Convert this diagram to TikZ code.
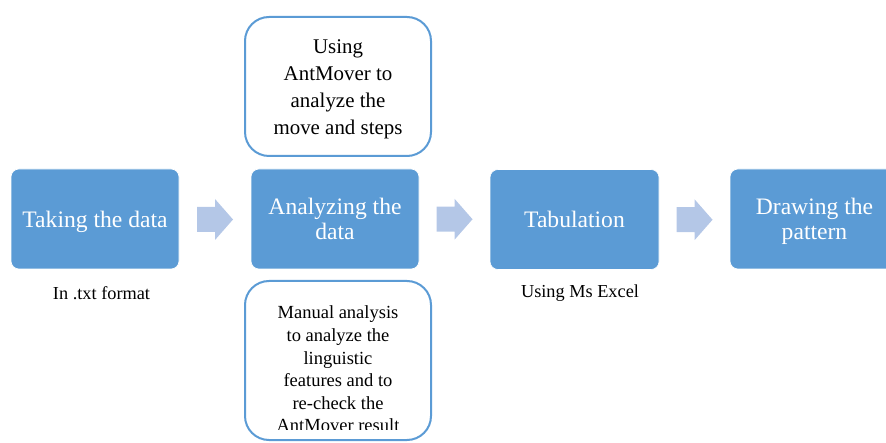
\documentclass[tikz,border=0pt]{standalone}
\usepackage{fontspec}
\setmainfont{Liberation Serif}
\usetikzlibrary{calc}
\definecolor{boxblue}{HTML}{5B9BD5}
\definecolor{arrowblue}{HTML}{B4C7E7}
\tikzset{
  mainbox/.style={rectangle, rounded corners=8pt, fill=boxblue, draw=white, line width=0.6pt,
    minimum width=168pt, minimum height=100pt, text=white, inner sep=0pt, align=center,
    text depth=0pt, font=\fontsize{23.6}{24.5}\selectfont},
  sidebox/.style={rectangle, rounded corners=24pt, draw=boxblue, line width=2pt, fill=white,
    minimum width=186pt, inner sep=0pt, align=center},
  toptext/.style={font=\fontsize{20.9}{27}\selectfont, align=center, inner sep=0pt},
  bottext/.style={font=\fontsize{18.5}{22.6}\selectfont, align=center, inner sep=0pt},
  note/.style={font=\fontsize{18.3}{22}\selectfont, inner sep=0pt},
  blockarrow/.pic={\fill[arrowblue] (-18,-12.5) -- (0,-12.5) -- (0,-20.5) -- (18,0) -- (0,20.5) -- (0,12.5) -- (-18,12.5) -- cycle;}
}
\begin{document}
\begin{tikzpicture}[x=1pt,y=-1pt]
\useasboundingbox (0,0) rectangle (886,443);
\clip (0,0) rectangle (886,443);
% main row
\node[mainbox] (take) at (95,219) {Taking the data};
\node[mainbox] (anal) at (335,219) {Analyzing the\\data};
\node[mainbox, minimum width=169pt] (tab) at (574.5,219.5) {Tabulation};
\node[mainbox, minimum width=169pt] (drawp) at (814.5,219) {Drawing the\\pattern};
% block arrows
\pic at ($(take.east)!0.5!(anal.west)+(0,0.5)$) {blockarrow};
\pic at ($(anal.east)!0.5!(tab.west)+(0,0)$) {blockarrow};
\pic at ($(tab.east)!0.5!(drawp.west)+(0,0.5)$) {blockarrow};
% side boxes
\node[sidebox, minimum height=139pt] (top) at (338,86.5) {};
\node[toptext] (toptxt) at (338,89) {Using\\AntMover to\\analyze the\\move and steps};
\node[sidebox, minimum height=159pt] (bot) at (338,360.5) {};
\begin{scope}
\clip (244,282) rectangle (432,429);
\node[bottext] (bottxt) at (338,369) {Manual analysis\\to analyze the\\linguistic\\features and to\\re-check the\\AntMover result};
\end{scope}
% notes
\node[note] (n1) at (101.5,293.5) {In .txt format};
\node[note] (n2) at (580,293.5) {Using Ms Excel};
\end{tikzpicture}
\end{document}
